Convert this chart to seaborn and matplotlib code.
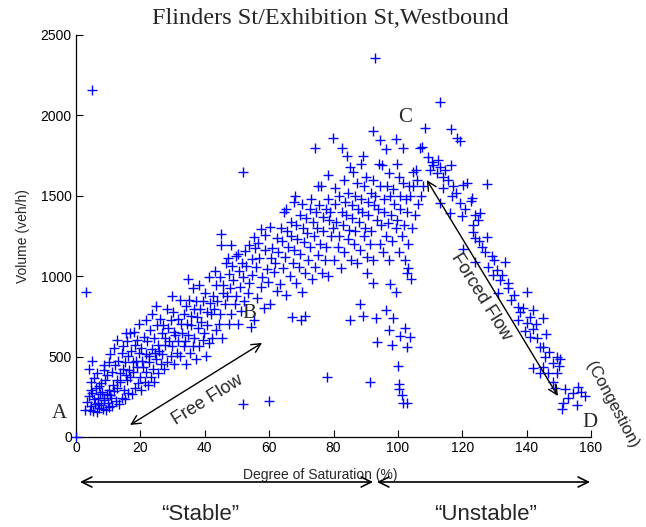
import matplotlib
matplotlib.use("Agg")
import matplotlib.pyplot as plt
from matplotlib.patches import FancyArrowPatch
import seaborn as sns
import pandas as pd

# ---- observations: degree of saturation (%) and volume (veh/h) ----
dos_free = [2.8, 3.5, 4.2, 3.9, 4.6, 5.3, 4.8, 5.6, 5.1, 4.7,
            6.4, 5.8, 6.9, 6.2, 5.7, 7.3, 6.8, 7.6, 7.1, 6.6,
            8.3, 7.7, 8.6, 8.1, 7.9, 8.8, 9.2, 8.7, 9.5, 9.1,
            8.6, 10.3, 9.8, 10.6, 10.1, 9.7, 10.4, 11.2, 10.8, 11.5,
            11.1, 10.7, 12.4, 11.8, 12.6, 12.2, 11.9, 13.3, 12.8, 13.6,
            13.1, 12.7, 14.4, 13.8, 14.6, 14.2, 15.3, 14.8, 15.6, 15.1,
            14.7, 15.4, 16.3, 15.8, 16.6, 16.2, 15.9, 17.4, 16.8, 17.6,
            17.1, 16.7, 18.3, 17.8, 18.6, 18.2, 17.9, 19.4, 18.8, 19.6,
            19.1, 20.3, 19.8, 20.6, 20.2, 19.7, 21.4, 20.8, 21.6, 21.2,
            22.3, 21.7, 22.6, 22.2, 21.9, 23.4, 22.8, 23.6, 23.1, 24.3,
            23.8, 24.6, 24.2, 23.7, 25.4, 24.9, 25.6, 25.2, 24.8, 26.3,
            25.8, 26.6, 26.2, 27.4, 26.8, 27.6, 27.1, 28.3, 27.8, 28.6,
            28.2, 29.4, 28.8, 29.6, 30.3, 29.7, 30.6, 30.2, 29.9, 31.4,
            30.8, 31.6, 32.3, 31.8, 32.6, 32.2, 33.4, 32.8, 33.6, 34.3,
            33.8, 34.6, 34.2, 35.4, 34.8, 35.6, 35.2, 34.9, 36.3, 35.8,
            36.6, 36.2, 37.4, 36.8, 37.6, 37.2, 38.3, 37.8, 38.6, 38.2,
            39.4, 38.8, 39.6, 40.3, 39.7, 40.6, 40.2, 41.4, 40.8, 41.6,
            41.2, 42.3, 41.8, 42.6, 43.4, 42.8, 43.6, 43.2, 44.3, 43.8,
            44.6, 45.4, 44.8, 45.6, 45.2, 44.9, 46.3, 45.8, 46.6, 47.4,
            46.8, 47.6, 47.2, 48.3, 47.8, 48.6, 48.2, 49.4, 48.8, 49.6,
            50.3, 49.7, 50.6, 50.2, 51.4, 50.8, 51.6, 52.3, 51.8, 52.6,
            53.4, 52.8, 53.6, 54.3, 53.8, 54.6, 55.4, 54.8, 55.6, 55.2,
            56.3, 55.8, 56.6, 57.4, 56.8, 57.6, 58.3, 57.8, 58.6, 59.4,
            58.8, 60.3, 59.7, 60.6, 60.2, 61.4, 60.8, 62.3, 61.8, 62.6]
vol_free = [165, 215, 170, 255, 295, 160, 195, 235, 275, 345,
            155, 205, 240, 305, 365, 180, 210, 265, 315, 395,
            175, 200, 245, 280, 335, 415, 165, 230, 265, 355,
            445, 185, 210, 260, 295, 385, 465, 190, 245, 325,
            405, 515, 225, 285, 355, 445, 555, 205, 305, 395,
            475, 605, 245, 345, 425, 525, 235, 295, 385, 465,
            565, 645, 275, 355, 415, 505, 595, 265, 375, 465,
            535, 645, 305, 405, 475, 575, 655, 335, 435, 525,
            605, 295, 375, 475, 555, 705, 345, 435, 515, 625,
            325, 405, 505, 595, 725, 375, 465, 545, 665, 345,
            425, 525, 615, 765, 395, 485, 575, 695, 815, 455,
            535, 645, 735, 425, 515, 615, 695, 465, 575, 675,
            795, 505, 595, 725, 455, 565, 655, 775, 875, 525,
            635, 735, 505, 595, 705, 855, 565, 645, 765, 455,
            595, 705, 815, 525, 635, 755, 855, 985, 565, 695,
            795, 925, 485, 615, 745, 845, 565, 675, 795, 945,
            605, 715, 845, 505, 645, 775, 895, 585, 695, 835,
            995, 615, 765, 875, 665, 795, 945, 1035, 705, 845,
            995, 615, 765, 895, 1195, 1265, 825, 945, 1085, 705,
            875, 1015, 1115, 765, 925, 1065, 1195, 825, 975, 1125,
            705, 875, 1035, 1135, 785, 935, 1085, 845, 995, 1155,
            895, 1065, 1195, 685, 955, 1105, 725, 1005, 1175, 1245,
            865, 1055, 1205, 935, 1115, 1295, 805, 995, 1165, 1045,
            1255, 825, 965, 1115, 1305, 1025, 1175, 905, 1085, 1235]

dos_peak = [63.4, 62.8, 63.6, 64.3, 63.9, 64.6, 65.2, 64.8, 65.7, 65.3,
            66.4, 65.9, 66.7, 67.3, 66.8, 67.6, 68.2, 67.7, 68.5, 68.1,
            69.3, 68.8, 69.6, 70.2, 69.7, 70.5, 70.1, 71.3, 70.8, 71.6,
            72.2, 71.7, 72.6, 73.3, 72.8, 73.6, 73.1, 74.4, 73.8, 74.6,
            74.2, 75.3, 74.8, 75.6, 75.1, 76.4, 75.8, 76.6, 76.2, 77.3,
            76.8, 77.6, 78.3, 77.8, 78.6, 78.2, 78.4, 79.3, 78.8, 79.7,
            80.2, 79.8, 80.6, 80.4, 81.3, 80.8, 81.6, 82.3, 81.8, 82.6,
            82.5, 83.3, 82.8, 83.6, 83.2, 84.4, 83.8, 84.6, 85.3, 84.8,
            85.6, 85.2, 85.1, 86.4, 85.8, 86.6, 87.3, 86.8, 87.6, 87.2,
            88.3, 87.8, 88.6, 88.2, 89.4, 88.8, 89.6, 89.2, 89.3, 90.3,
            89.8, 90.6, 90.2, 90.3, 91.4, 90.8, 91.6, 91.3, 92.3, 91.8,
            92.6, 92.2, 92.2, 92.2, 93.4, 92.8, 93.2, 93.4, 94.3, 93.8,
            94.6, 94.2, 95.3, 94.8, 95.6, 95.0, 96.4, 95.8, 96.6, 96.3,
            97.3, 96.8, 97.6, 97.2, 97.5, 97.3, 98.3, 97.8, 98.6, 98.1,
            98.6, 99.4, 98.8, 99.3, 99.3, 100.3, 99.8, 100.6, 100.2, 100.1,
            100.3, 100.3, 101.4, 100.8, 101.6, 100.6, 101.2, 102.3, 101.8, 102.6,
            101.5, 102.7, 102.2, 102.7, 101.5, 103.3, 102.8, 103.6, 103.8, 104.3,
            103.8, 104.6, 104.2, 105.3, 104.8, 105.6, 106.3, 105.8, 107.2, 107.0,
            108.4, 107.8, 102.7, 103.2, 99.6, 96.2, 94.4, 88.4, 86.2, 84.3]
vol_peak = [950, 1150, 1300, 1050, 1220, 1400, 880, 1120, 1280, 1420,
            1000, 1180, 1340, 1080, 1250, 1460, 960, 1160, 1320, 1500,
            1060, 1230, 1380, 900, 1140, 1300, 1450, 1020, 1210, 1360,
            1100, 1270, 1420, 980, 1180, 1340, 1480, 1060, 1250, 1400,
            1800, 1130, 1300, 1440, 1560, 1020, 1200, 1370, 1560, 1100,
            1280, 1420, 1000, 1180, 1350, 1480, 1630, 1250, 1400, 1860,
            1100, 1300, 1450, 1550, 1180, 1340, 1500, 1050, 1250, 1400,
            1800, 1150, 1320, 1460, 1600, 1230, 1380, 1520, 1100, 1290,
            1440, 1680, 730, 1200, 1360, 1500, 1080, 1280, 1420, 1580,
            1160, 1340, 1480, 830, 1250, 1400, 1560, 1750, 750, 1120,
            1300, 1460, 1620, 1020, 1200, 1380, 1520, 340, 1100, 1280,
            1440, 1600, 1900, 960, 1350, 1500, 740, 590, 1200, 1420,
            1560, 1700, 1150, 1320, 1480, 1690, 1250, 1400, 1560, 790,
            1100, 1330, 1500, 1640, 950, 665, 1220, 1380, 1540, 570,
            740, 1300, 1450, 1855, 900, 1150, 1350, 1500, 1620, 440,
            330, 300, 1250, 1420, 1580, 630, 260, 1100, 1320, 1480,
            1800, 1020, 680, 560, 210, 1200, 1400, 1560, 620, 1300,
            1500, 1650, 980, 1380, 1560, 1660, 1450, 1600, 1500, 1800,
            1920, 1560, 210, 1050, 1700, 1790, 1850, 1700, 1650, 1750]

dos_forced = [113.1, 116.4, 118.4, 119.3, 107.4, 109.4, 110.5, 113.1, 116.4, 112.0,
              114.1, 115.7, 120.3, 121.4, 127.6, 114.1, 116.7, 122.9, 119.3, 113.1,
              122.6, 116.2, 119.8, 125.5, 125.0, 123.4, 123.4, 123.9, 127.6, 125.1,
              120.3, 129.1, 133.3, 123.9, 128.1, 130.7, 129.6, 132.2, 131.7, 134.3,
              134.3, 140.2, 131.2, 135.3, 137.4, 137.9, 142.1, 141.0, 145.2, 137.4,
              140.0, 142.1, 139.6, 141.0, 143.1, 145.2, 145.7, 149.3, 150.3, 148.3,
              142.1, 145.2, 144.1, 146.7, 149.3, 148.3, 148.8, 156.0, 154.5, 158.1,
              151.4, 155.5, 151.1, 111.0, 112.5, 110.0, 114.5, 117.0, 118.0, 121.0,
              124.0, 126.0, 130.0, 127.0, 136.0, 139.0, 143.0, 146.0, 144.0, 147.0,
              150.0, 152.0, 157.0, 153.0]
vol_forced = [2085, 1913, 1857, 1843, 1805, 1743, 1712, 1677, 1691, 1640,
              1619, 1598, 1567, 1578, 1573, 1546, 1499, 1484, 1453, 1453,
              1465, 1395, 1374, 1395, 1349, 1318, 1277, 1236, 1246, 1220,
              1167, 1126, 1090, 1090, 1059, 1039, 1008, 1008, 977, 956,
              925, 904, 894, 852, 810, 780, 790, 748, 738, 728,
              707, 670, 660, 624, 614, 562, 499, 499, 483, 458,
              427, 437, 396, 396, 396, 344, 303, 313, 271, 255,
              209, 199, 174, 1690, 1720, 1660, 1660, 1560, 1520, 1420,
              1380, 1180, 1100, 1150, 880, 800, 700, 640, 560, 530,
              440, 300, 280, 240]

dos_stray = [0, 3, 4, 5, 5, 52, 93, 52, 60, 78, 67, 70, 71]
vol_stray = [0, 900, 420, 470, 2160, 1650, 2360, 205, 225, 375, 745, 725, 750]

title = "Flinders St/Exhibition St,Westbound"
x_label = "Degree of Saturation (%)"
y_label = "Volume (veh/h)"
x_ticks = [0, 20, 40, 60, 80, 100, 120, 140, 160]
y_ticks = [0, 500, 1000, 1500, 2000, 2500]

df = pd.DataFrame({
    "dos": dos_free + dos_peak + dos_forced + dos_stray,
    "volume": vol_free + vol_peak + vol_forced + vol_stray,
})

sns.set_theme(style="ticks")
plt.rcParams["font.family"] = ["Liberation Sans", "DejaVu Sans"]

W, H = 646, 527
fig = plt.figure(figsize=(W / 100, H / 100), dpi=100)
ax = fig.add_axes([76 / W, 1 - 437 / H, 515 / W, 402 / H])


def fig_frac(px, py):
    return px / W, 1 - py / H


sns.scatterplot(data=df, x="dos", y="volume", ax=ax, marker="+",
                color="#0000ff", s=60, linewidth=1.0, legend=False,
                clip_on=False, zorder=3)

ax.set_xlim(0, 160)
ax.set_ylim(0, 2500)
ax.set_xticks(x_ticks)
ax.set_yticks(y_ticks)
ax.tick_params(direction="in", length=5, width=0.8, labelsize=10,
               colors="black", pad=3)
for side in ("top", "right"):
    ax.spines[side].set_visible(False)
for side in ("left", "bottom"):
    ax.spines[side].set_linewidth(0.9)
    ax.spines[side].set_color("black")

ax.set_xlabel(x_label, fontsize=10)
ax.set_ylabel(y_label, fontsize=10)
ax.xaxis.set_label_coords(0.474, -0.077)
ax.yaxis.set_label_coords(-0.09, 0.5)

fig.text(*fig_frac(330, 18), title, ha="center", va="center",
         family="Liberation Serif", fontsize=17.5)

# regime markers
serif = dict(family="Liberation Serif", fontsize=15, ha="center", va="center")
ax.text(-5.3, 149, "A", **serif)
ax.text(53.7, 771, "B", **serif)
ax.text(102.2, 1984, "C", **serif)
ax.text(159.7, 93, "D", **serif)

arrow = dict(arrowstyle="<->", color="black", lw=1.0, mutation_scale=16,
             shrinkA=0, shrinkB=0)
ax.annotate("", xy=(16.8, 75), xytext=(57.8, 585), arrowprops=arrow)
ax.annotate("", xy=(109.0, 1598), xytext=(149.7, 255), arrowprops=arrow)

ax.text(41, 230, "Free Flow", rotation=32, fontsize=13,
        ha="center", va="center", rotation_mode="anchor")
ax.text(125.8, 871, "Forced Flow", rotation=-58, fontsize=13,
        ha="center", va="center", rotation_mode="anchor")
ax.text(166.5, 199, "(Congestion)", rotation=-62, fontsize=12,
        ha="center", va="center", rotation_mode="anchor", clip_on=False)

# stability bands beneath the axis
band = dict(arrowstyle="<->", color="black", lw=1.2, mutation_scale=18,
            shrinkA=0, shrinkB=0)
fig.add_artist(FancyArrowPatch(fig_frac(80, 482), fig_frac(373, 482),
                               transform=fig.transFigure, **band))
fig.add_artist(FancyArrowPatch(fig_frac(377, 482), fig_frac(590, 482),
                               transform=fig.transFigure, **band))
fig.text(*fig_frac(200, 514), "\u201cStable\u201d", ha="center", va="center",
         fontsize=16)
fig.text(*fig_frac(486, 514), "\u201cUnstable\u201d", ha="center",
         va="center", fontsize=16)

fig.savefig("out.png", dpi=100)
